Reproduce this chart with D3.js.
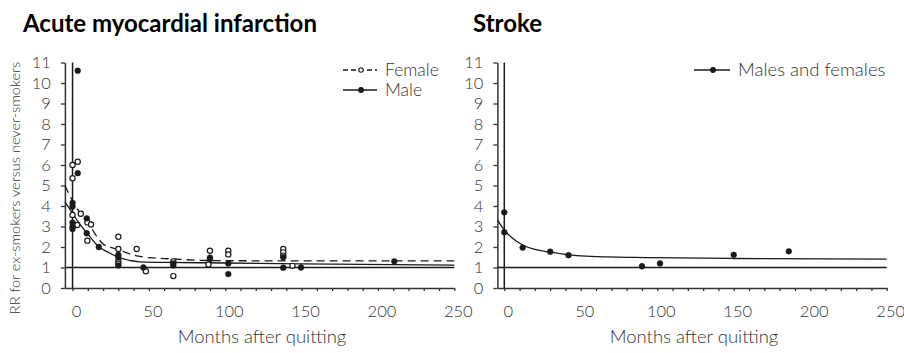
<!DOCTYPE html>
<html>
<head>
<meta charset="utf-8">
<script src="https://cdn.jsdelivr.net/npm/d3@7/dist/d3.min.js"></script>
<style>
  body { margin: 0; background: #fff; }
  svg text { font-family: Lato, "Noto Sans", sans-serif; }
</style>
</head>
<body>
<svg id="chart" width="904" height="353"></svg>
<script>
// tick labels
const xLabels = [0, 50, 100, 150, 200, 250];
const xMinor = [0, 10, 20, 30, 40, 50, 60, 70, 80, 90, 100, 110, 120, 130, 140, 150, 160, 170, 180, 190, 200, 210, 220, 230, 240, 250];
const yLabels = [0, 1, 2, 3, 4, 5, 6, 7, 8, 9, 10, 11];

// acute myocardial infarction - observed RR (months, RR)
const femaleMonths = [0, 3.4, 0, 0, 3.1, 5.4, 9.7, 12.1, 9.7, 30, 30, 30, 30, 42, 48, 66, 66, 90, 89, 102, 102, 138, 138, 138, 144];
const femaleRR     = [6.0, 6.16, 5.35, 3.56, 3.07, 3.62, 3.2, 3.1, 2.31, 2.5, 1.9, 1.32, 1.2, 1.9, 0.82, 1.3, 0.58, 1.82, 1.15, 1.82, 1.64, 1.9, 1.74, 1.58, 1.08];
const maleMonths = [3.4, 3.4, 0, 0, 0, 0, 0, 9.3, 9.3, 17.2, 30, 30, 30, 46.4, 66, 66, 90, 90, 102, 102, 138, 138, 149.6, 210.7];
const maleRR     = [10.6, 5.6, 4.15, 3.97, 3.19, 3.0, 2.88, 3.4, 2.67, 2.0, 1.62, 1.5, 1.1, 1.0, 1.2, 1.1, 1.48, 1.4, 1.2, 0.68, 1.5, 0.99, 1.0, 1.3];

// fitted curves
const femaleFitMonths = [-5, 0, 5, 9, 13, 16, 20, 25, 30, 36, 42, 50, 65, 80, 100, 250];
const femaleFitRR     = [5.0, 4.25, 3.65, 3.3, 2.85, 2.5, 2.15, 1.98, 1.87, 1.7, 1.57, 1.48, 1.42, 1.36, 1.33, 1.32];
const maleFitMonths = [-5, 0, 3, 9, 17, 24, 30, 38, 44, 60, 100, 150, 250];
const maleFitRR     = [4.2, 3.65, 3.3, 2.72, 2.02, 1.72, 1.5, 1.34, 1.27, 1.25, 1.22, 1.18, 1.12];

// stroke
const strokeMonths = [0, 0, 12, 30, 42, 90, 101.8, 150, 186];
const strokeRR     = [3.69, 2.72, 1.97, 1.77, 1.6, 1.06, 1.2, 1.62, 1.79];
const strokeFitMonths = [-4.5, 0, 5, 12, 20, 30, 50, 95, 150, 250];
const strokeFitRR     = [3.32, 2.83, 2.45, 2.1, 1.88, 1.75, 1.57, 1.48, 1.44, 1.41];

const svg = d3.select('#chart');
const ink = '#1a1a1a';
const axisInk = '#333';

const yScale = d3.scaleLinear().domain([0, 11]).range([288, 62.5]);

function zip(xs, ys) { return xs.map((x, i) => ({ x: x, y: ys[i] })); }

function drawPanel(opts) {
    const xScale = d3.scaleLinear().domain([opts.x0, 250]).range(opts.range);
    const g = svg.append('g');

    // title
    g.append('text')
        .attr('x', opts.titleX).attr('y', 31.5)
        .style('font-size', '24px').style('font-weight', 700).style('fill', '#000')
        .text(opts.title);

    // x axis minor ticks
    const xAxis = g.append('g')
        .attr('transform', 'translate(0,288)')
        .call(d3.axisBottom(xScale).tickValues(xMinor).tickSize(3).tickSizeOuter(0).tickFormat(''));
    xAxis.select('.domain').attr('stroke', axisInk).attr('stroke-width', 1.5);
    xAxis.selectAll('.tick line').attr('stroke', axisInk).attr('stroke-width', 1.3);

    g.selectAll('.xlab')
        .data(xLabels).enter().append('text')
        .attr('x', d => xScale(d) + 4).attr('y', 317)
        .attr('text-anchor', 'middle')
        .style('font-size', '16.5px').style('font-weight', 300).style('fill', axisInk)
        .text(d => d);

    g.append('text')
        .attr('x', opts.labelX).attr('y', 343)
        .attr('text-anchor', 'middle')
        .style('font-size', '18.5px').style('font-weight', 300).style('fill', axisInk)
        .text('Months after quitting');

    // y axis
    const yAxis = g.append('g')
        .attr('transform', `translate(${xScale(opts.x0)},0)`)
        .call(d3.axisLeft(yScale).tickValues(yLabels).tickSize(4).tickSizeOuter(0).tickPadding(10));
    yAxis.select('.domain').attr('stroke', axisInk).attr('stroke-width', 1.5);
    yAxis.selectAll('.tick line').attr('stroke', axisInk).attr('stroke-width', 1.3);
    yAxis.selectAll('.tick text')
        .style('font-size', '16.5px').style('font-weight', 300).style('fill', axisInk)
        .style('font-family', 'Lato, sans-serif');

    // reference lines
    g.append('line')
        .attr('x1', xScale(opts.x0)).attr('x2', xScale(250))
        .attr('y1', yScale(1)).attr('y2', yScale(1))
        .attr('stroke', ink).attr('stroke-width', 1.3);
    g.append('line')
        .attr('x1', xScale(0)).attr('x2', xScale(0))
        .attr('y1', yScale(0)).attr('y2', yScale(11))
        .attr('stroke', ink).attr('stroke-width', 1.5);

    const line = d3.line()
        .x(d => xScale(d.x)).y(d => yScale(d.y))
        .curve(d3.curveMonotoneX);

    opts.curves.forEach(c => {
        g.append('path')
            .datum(zip(c.xs, c.ys))
            .attr('d', line)
            .attr('fill', 'none')
            .attr('stroke', ink)
            .attr('stroke-width', 1.3)
            .attr('stroke-dasharray', c.dash || null);
    });

    opts.points.forEach(p => {
        g.append('g').selectAll('circle')
            .data(zip(p.xs, p.ys)).enter().append('circle')
            .attr('cx', d => xScale(d.x)).attr('cy', d => yScale(d.y))
            .attr('r', p.open ? 2.6 : 2.9)
            .attr('fill', p.open ? '#fff' : ink)
            .attr('stroke', ink)
            .attr('stroke-width', p.open ? 1.2 : 0.5);
    });

    // legend
    opts.legend.forEach(l => {
        g.append('line')
            .attr('x1', l.x).attr('x2', l.x + l.w)
            .attr('y1', l.y).attr('y2', l.y)
            .attr('stroke', ink).attr('stroke-width', 1.3)
            .attr('stroke-dasharray', l.dash || null);
        g.append('circle')
            .attr('cx', l.x + l.w / 2 + 1).attr('cy', l.y)
            .attr('r', l.open ? 2.2 : 2.4)
            .attr('fill', l.open ? '#fff' : ink)
            .attr('stroke', ink).attr('stroke-width', 1.1);
        g.append('text')
            .attr('x', l.x + l.w + 8).attr('y', l.y + 6)
            .style('font-size', l.size).style('font-weight', 300).style('fill', axisInk)
            .text(l.text);
    });
}

drawPanel({
    title: 'Acute myocardial infarction', titleX: 23,
    x0: -5, range: [64.9, 454.3], labelX: 262,
    curves: [
        { xs: femaleFitMonths, ys: femaleFitRR, dash: '8,5' },
        { xs: maleFitMonths, ys: maleFitRR }
    ],
    points: [
        { xs: femaleMonths, ys: femaleRR, open: true },
        { xs: maleMonths, ys: maleRR, open: false }
    ],
    legend: [
        { x: 343, w: 34, y: 70, dash: '5,3', open: true, text: 'Female', size: '17.5px' },
        { x: 343, w: 34, y: 90, open: false, text: 'Male', size: '17.5px' }
    ]
});

drawPanel({
    title: 'Stroke', titleX: 473,
    x0: -4.5, range: [497.4, 886.7], labelX: 694,
    curves: [
        { xs: strokeFitMonths, ys: strokeFitRR }
    ],
    points: [
        { xs: strokeMonths, ys: strokeRR, open: false }
    ],
    legend: [
        { x: 694, w: 36, y: 70, open: false, text: 'Males and females', size: '18.5px' }
    ]
});

// shared y label
svg.append('text')
    .attr('transform', 'translate(20,188) rotate(-90)')
    .attr('text-anchor', 'middle')
    .style('font-size', '14.5px').style('font-weight', 300).style('fill', axisInk)
    .text('RR for ex-smokers versus never-smokers');
</script>
</body>
</html>
